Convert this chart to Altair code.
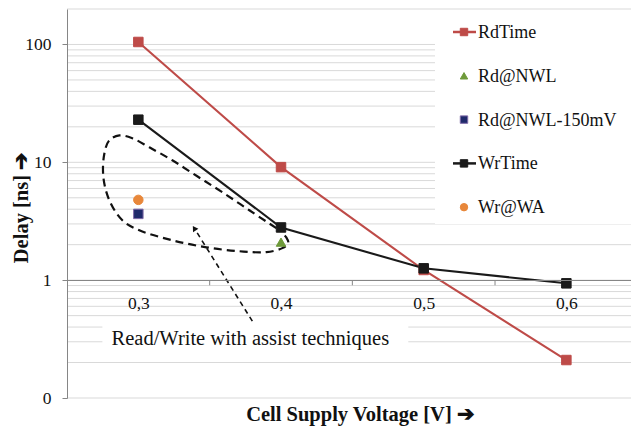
import altair as alt
import pandas as pd

# ---------------- data ----------------
voltage = [0.3, 0.4, 0.5, 0.6]
rd_time = [105, 9.1, 1.22, 0.21]
wr_time = [23, 2.8, 1.26, 0.94]
rd_nwl_v = [0.4]
rd_nwl = [2.1]
rd_nwl150_v = [0.3]
rd_nwl150 = [3.65]
wr_wa_v = [0.3]
wr_wa = [4.8]

series_names = ["RdTime", "Rd@NWL", "Rd@NWL-150mV", "WrTime", "Wr@WA"]
series_has_line = [True, False, False, True, False]
x_tick_values = [0.3, 0.4, 0.5, 0.6]
x_tick_bounds = [0.35, 0.45, 0.55]
y_major = [0.1, 1, 10, 100]
y_grid = [0.1, 0.2, 0.3, 0.4, 0.5, 0.6, 0.7, 0.8, 0.9,
          1, 2, 3, 4, 5, 6, 7, 8, 9,
          10, 20, 30, 40, 50, 60, 70, 80, 90, 100, 200]

# annotation (in data units: volts, ns)
loop_v = [0.3967, 0.3778, 0.3589, 0.3413, 0.3238, 0.3077, 0.2958, 0.2867, 0.2797,
          0.2762, 0.2755, 0.2797, 0.2888, 0.3007, 0.3238, 0.3477, 0.3708, 0.3897,
          0.4009, 0.4051, 0.4037, 0.4002]
loop_ns = [2.76, 3.92, 5.57, 7.61, 10.4, 13.4, 16.0, 16.9, 15.4,
           11.9, 7.46, 4.76, 3.22, 2.65, 2.18, 1.90, 1.76, 1.73,
           1.87, 2.06, 2.31, 2.55]
arrow_v = [0.3799, 0.3392]
arrow_ns = [0.449, 2.76]
note_text = ["Read/Write with assist techniques"]
note_v = [0.3785]
note_ns = [0.281]
note_box_v = [0.2748, 0.4892]
note_box_ns = [0.2314, 0.476]

# ---------------- styles ----------------
colors = ["#BE4B48", "#6E9A3A", "#1F2A6B", "#1A1A1A", "#E8873A"]
strokes = ["#BE4B48", "#6E9A3A", "#7F6AA8", "#1A1A1A", "#E8873A"]
shapes = ["square", "triangle-up", "square", "square", "circle"]
SERIF = "Liberation Serif"
AX = "#868686"

xs = alt.Scale(domain=[0.25, 0.6453], nice=False, zero=False)
ys = alt.Scale(type="log", domain=[0.1, 200], nice=False)
cs = alt.Scale(domain=series_names, range=colors)
ss = alt.Scale(domain=series_names, range=shapes)
sts = alt.Scale(domain=series_names, range=strokes)

rows = []
for v, t in zip(voltage, rd_time):
    rows.append({"series": "RdTime", "v": v, "ns": t})
for v, t in zip(rd_nwl_v, rd_nwl):
    rows.append({"series": "Rd@NWL", "v": v, "ns": t})
for v, t in zip(rd_nwl150_v, rd_nwl150):
    rows.append({"series": "Rd@NWL-150mV", "v": v, "ns": t})
for v, t in zip(voltage, wr_time):
    rows.append({"series": "WrTime", "v": v, "ns": t})
for v, t in zip(wr_wa_v, wr_wa):
    rows.append({"series": "Wr@WA", "v": v, "ns": t})
df = pd.DataFrame(rows)

# gridlines + y axis
grid = alt.Chart(pd.DataFrame({"g": y_grid})).mark_rule(
    color="#D9D9D9", strokeWidth=1
).encode(
    y=alt.Y("g:Q", scale=ys, axis=alt.Axis(
        values=y_major,
        labelExpr="datum.value < 0.5 ? '0' : format(datum.value, 'd')",
        grid=False, domainColor=AX, tickColor=AX, tickSize=5,
        labelFont=SERIF, labelFontSize=17.5, labelColor="#111", labelPadding=11,
        title="Delay [ns] ➔", titleFont=SERIF, titleFontWeight="bold",
        titleFontSize=20.5, titleColor="#111", titleX=-40, titleY=198,
        titleBaseline="alphabetic", titleAlign="center", zindex=1,
    ))
)

# white legend box (pixel space)
leg_box = alt.Chart(pd.DataFrame({"x0": [368], "x1": [564], "y0": [1], "y1": [215]})).mark_rect(
    color="white"
).encode(
    x=alt.X("x0:Q", scale=None), x2="x1:Q",
    y=alt.Y("y0:Q", scale=None), y2="y1:Q",
)

# note box
note_box = alt.Chart(pd.DataFrame({"v0": [note_box_v[0]], "v1": [note_box_v[1]],
                                   "n0": [note_box_ns[0]], "n1": [note_box_ns[1]]})).mark_rect(
    color="white"
).encode(
    x=alt.X("v0:Q", scale=xs), x2="v1:Q",
    y=alt.Y("n0:Q", scale=ys), y2="n1:Q",
)

# category boundary ticks on x axis line (y = 1)
xticks = alt.Chart(pd.DataFrame({"b": x_tick_bounds, "y0": [1] * 3, "y1": [0.905] * 3})).mark_rule(
    color=AX, strokeWidth=1
).encode(
    x=alt.X("b:Q", scale=xs), y=alt.Y("y0:Q", scale=ys), y2="y1:Q"
)

# dashed loop
loop = alt.Chart(pd.DataFrame({"v": loop_v, "ns": loop_ns, "i": list(range(len(loop_v)))})).mark_line(
    color="#111", strokeWidth=2.2, strokeDash=[8, 5], interpolate="catmull-rom"
).encode(
    x=alt.X("v:Q", scale=xs), y=alt.Y("ns:Q", scale=ys), order="i:Q"
)

# arrow
arrow_df = pd.DataFrame({"v": arrow_v, "ns": arrow_ns, "i": [0, 1]})
arrow_line = alt.Chart(arrow_df).mark_line(
    color="#111", strokeWidth=1.6, strokeDash=[5, 4]
).encode(x=alt.X("v:Q", scale=xs), y=alt.Y("ns:Q", scale=ys), order="i:Q")
arrow_head = alt.Chart(arrow_df.iloc[[1]]).mark_point(
    shape="triangle-up", filled=True, color="#111", size=40, angle=328, opacity=1
).encode(x=alt.X("v:Q", scale=xs), y=alt.Y("ns:Q", scale=ys))

# series lines
lines = alt.Chart(df).transform_filter(
    alt.FieldOneOfPredicate(field="series", oneOf=["RdTime", "WrTime"])
).mark_line(strokeWidth=2.1).encode(
    x=alt.X("v:Q", scale=xs, axis=alt.Axis(
        values=x_tick_values,
        labelExpr="replace(format(datum.value, '.1f'), '.', ',')",
        offset=-118, ticks=False, tickSize=0, grid=False, domainColor=AX,
        labelFont=SERIF, labelFontSize=17.5, labelColor="#111", labelPadding=14,
        title="Cell Supply Voltage [V] ➔", titleFont=SERIF, titleFontWeight="bold",
        titleFontSize=20.5, titleColor="#111", titleX=293, titleY=140,
        titleBaseline="alphabetic", titleAlign="center", zindex=1,
    )),
    y=alt.Y("ns:Q", scale=ys),
    color=alt.Color("series:N", scale=cs, legend=None),
)

points = alt.Chart(df).mark_point(filled=True, size=90, opacity=1, strokeWidth=1).encode(
    x=alt.X("v:Q", scale=xs), y=alt.Y("ns:Q", scale=ys),
    color=alt.Color("series:N", scale=cs, legend=None),
    shape=alt.Shape("series:N", scale=ss, legend=None),
    stroke=alt.Stroke("series:N", scale=sts, legend=None),
)

note = alt.Chart(pd.DataFrame({"t": note_text, "v": note_v, "ns": note_ns})).mark_text(
    font=SERIF, fontSize=20.5, color="#111", align="center", baseline="alphabetic"
).encode(x=alt.X("v:Q", scale=xs), y=alt.Y("ns:Q", scale=ys), text="t:N")

# manual legend (pixel space relative to plot area)
leg = pd.DataFrame({"series": series_names, "i": list(range(5)), "line": series_has_line})
leg["py"] = 23 + leg["i"] * 43.8
leg["ty"] = leg["py"] + 6
leg["sx"] = 397
leg["lx0"] = 386
leg["lx1"] = 409
leg["tx"] = 411

leg_lines = alt.Chart(leg).transform_filter("datum.line").mark_rule(strokeWidth=2.5).encode(
    x=alt.X("lx0:Q", scale=None), x2="lx1:Q", y=alt.Y("py:Q", scale=None),
    color=alt.Color("series:N", scale=cs, legend=None),
)
leg_pts = alt.Chart(leg).mark_point(filled=True, size=55, opacity=1, strokeWidth=1).encode(
    x=alt.X("sx:Q", scale=None), y=alt.Y("py:Q", scale=None),
    color=alt.Color("series:N", scale=cs, legend=None),
    shape=alt.Shape("series:N", scale=ss, legend=None),
    stroke=alt.Stroke("series:N", scale=sts, legend=None),
)
leg_text = alt.Chart(leg).mark_text(
    font=SERIF, fontSize=18, color="#111", align="left", baseline="alphabetic"
).encode(
    x=alt.X("tx:Q", scale=None), y=alt.Y("ty:Q", scale=None), text="series:N"
)

chart = alt.layer(
    grid, leg_box, note_box, xticks, loop, arrow_line, arrow_head,
    lines, points, note, leg_lines, leg_pts, leg_text
).properties(
    width=564, height=389,
    padding={"left": 67, "top": 9, "right": 0, "bottom": 29},
    autosize=alt.AutoSizeParams(type="none"),
    background="white",
).configure_view(stroke=None)

chart.save("out.html", embed_options={"renderer": "svg", "actions": False})
